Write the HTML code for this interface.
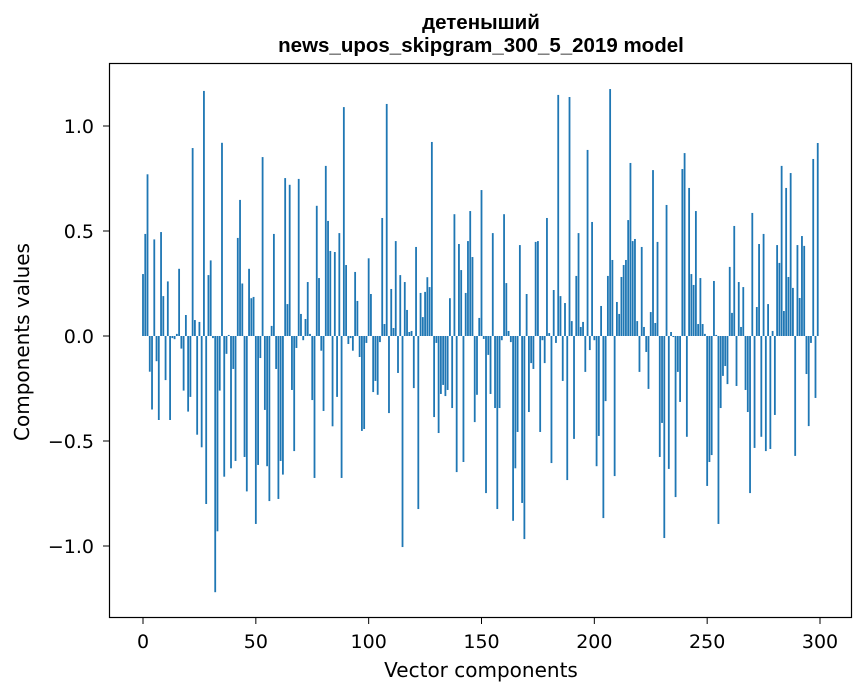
<!DOCTYPE html>
<html><head><meta charset="utf-8"><style>
body{margin:0;background:#fff}
svg{display:block;font-family:"DejaVu Sans","Liberation Sans",sans-serif}
</style></head><body>
<svg id="chart" width="867" height="696" xmlns="http://www.w3.org/2000/svg">
<rect width="867" height="696" fill="#fff"/>
<text x="481" y="29" text-anchor="middle" font-size="20.5" font-weight="bold" font-family="Liberation Sans, sans-serif">детеныший</text>
<text x="481" y="52" text-anchor="middle" font-size="20.5" font-weight="bold" font-family="Liberation Sans, sans-serif">news_upos_skipgram_300_5_2019 model</text>
<g id="bars"></g>
<g id="axes"></g>
<rect x="109.5" y="63.5" width="742" height="554" fill="none" stroke="#000" stroke-width="1.2"/>
<text x="481" y="677" text-anchor="middle" font-size="20">Vector components</text>
<text transform="translate(29,342) rotate(-90)" text-anchor="middle" font-size="20">Components values</text>
</svg>
<script>
const values = [0.295,0.486,0.77,-0.17,-0.35,0.46,-0.12,-0.40,0.495,0.19,
-0.21,0.26,-0.40,-0.01,-0.015,0.01,0.32,-0.06,-0.26,0.10,
-0.36,-0.29,0.895,0.076,-0.47,0.067,-0.53,1.167,-0.80,0.29,
0.36,-0.01,-1.22,-0.93,-0.26,0.92,-0.67,-0.085,0.005,-0.63,
-0.157,-0.595,0.467,0.648,0.25,-0.576,-0.74,0.32,0.18,0.186,
-0.895,-0.614,-0.105,0.852,-0.352,-0.62,-0.786,0.048,0.486,-0.157,
-0.776,-0.595,-0.66,0.752,0.152,0.72,-0.257,-0.548,-0.057,0.748,
0.105,-0.02,0.081,0.257,0.01,-0.305,-0.676,0.62,0.276,-0.07,
-0.357,0.81,0.548,0.405,-0.43,0.40,-0.29,0.49,-0.676,1.09,
0.338,-0.038,-0.01,-0.07,0.305,0.167,-0.10,-0.452,-0.443,-0.033,
0.37,0.20,-0.267,-0.214,-0.28,-0.029,0.562,0.057,1.105,-0.367,
0.224,0.038,0.452,-0.176,0.29,-1.005,0.257,0.124,0.019,0.024,
-0.248,0.424,-0.824,0.205,0.09,0.21,0.28,0.233,0.924,-0.386,
-0.033,-0.462,-0.276,-0.233,-0.286,-0.257,0.18,-0.343,0.58,-0.648,
0.438,0.314,-0.60,0.205,0.452,0.595,0.376,-0.41,-0.28,0.086,
0.695,-0.014,-0.748,-0.09,-0.276,0.49,-0.343,-0.824,-0.343,-0.02,
0.58,0.252,0.024,-0.029,-0.88,-0.63,-0.457,0.433,-0.795,-0.967,
0.20,-0.362,-0.129,-0.157,0.448,0.452,-0.457,-0.02,-0.129,0.562,
0.014,-0.605,0.219,-0.033,1.148,0.19,-0.214,0.157,-0.686,1.138,
0.071,-0.49,0.286,0.49,0.043,0.067,-0.171,0.886,-0.067,0.543,
-0.02,-0.62,-0.476,0.143,-0.867,-0.31,0.286,1.176,0.362,-0.667,
0.162,0.105,0.281,0.338,0.362,0.552,0.824,0.452,0.462,0.071,
-0.171,0.424,0.043,-0.076,-0.252,0.114,0.79,0.062,0.448,-0.576,
-0.414,-0.962,0.624,-0.633,0.019,-0.005,-0.767,-0.171,-0.314,0.795,
0.871,-0.48,0.705,0.295,0.243,0.595,0.057,0.276,0.057,0.01,
-0.714,-0.60,-0.567,0.262,0.005,-0.895,-0.343,-0.19,-0.143,-0.229,
0.329,0.11,0.524,-0.238,0.257,0.043,0.233,-0.257,-0.362,-0.748,
0.586,-0.533,0.138,0.438,-0.48,0.486,-0.548,0.152,-0.538,0.024,
-0.376,0.433,0.348,0.81,0.119,0.705,0.281,0.776,0.229,-0.571,
0.433,0.181,0.476,0.429,-0.181,-0.429,-0.033,0.843,-0.295,0.919];
const xTicks = [0,50,100,150,200,250,300];
const xTickLabels = ["0","50","100","150","200","250","300"];
const yTicks = [1.0,0.5,0.0,-0.5,-1.0];
const yTickLabels = ["1.0","0.5","0.0","\u22120.5","\u22121.0"];

const NS="http://www.w3.org/2000/svg";
function xs(i){return 143+i*(820-143)/300;}
function ys(v){return 336-v*210;}
const bw=0.8*(820-143)/300;
const bars=document.getElementById('bars');
values.forEach((v,i)=>{
  const r=document.createElementNS(NS,'rect');
  
  
  const y0=ys(0), y1=ys(v);
  r.setAttribute('x',xs(i)-bw/2);
  r.setAttribute('width',bw);
  r.setAttribute('y',Math.min(y0,y1));
  r.setAttribute('height',Math.max(Math.abs(y1-y0),0.3));
  r.setAttribute('fill','#1f77b4');
  bars.appendChild(r);
});
const axes=document.getElementById('axes');
xTicks.forEach((t,k)=>{
  const x=xs(t);
  const l=document.createElementNS(NS,'line');
  
  
  l.setAttribute('x1',x);l.setAttribute('x2',x);l.setAttribute('y1',618);l.setAttribute('y2',624);
  l.setAttribute('stroke','#000');
  axes.appendChild(l);
  const tx=document.createElementNS(NS,'text');
  
  
  tx.setAttribute('x',x);tx.setAttribute('y',648);
  tx.setAttribute('text-anchor','middle');tx.setAttribute('font-size','19');
  tx.textContent=xTickLabels[k];
  axes.appendChild(tx);
});
yTicks.forEach((t,k)=>{
  const y=ys(t);
  const l=document.createElementNS(NS,'line');
  
  
  l.setAttribute('x1',103);l.setAttribute('x2',109);l.setAttribute('y1',y);l.setAttribute('y2',y);
  l.setAttribute('stroke','#000');
  axes.appendChild(l);
  const tx=document.createElementNS(NS,'text');
  
  
  tx.setAttribute('x',94);tx.setAttribute('y',y+7);
  tx.setAttribute('text-anchor','end');tx.setAttribute('font-size','19');
  tx.textContent=yTickLabels[k];
  axes.appendChild(tx);
});
</script>
</body></html>
